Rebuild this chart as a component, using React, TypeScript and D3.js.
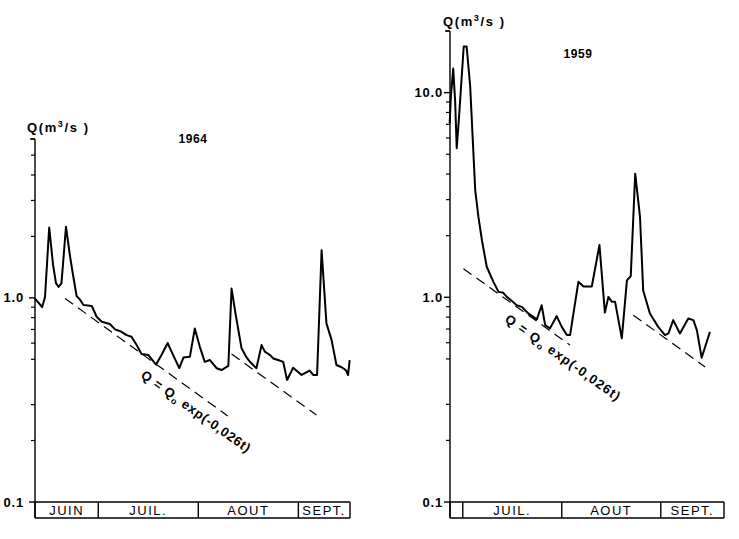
import React from "react";
import * as d3 from "d3";

// ---- 1964 panel data (day 0 = 1 June) ----
const days1964 = [10.4, 11.6, 12.6, 13.5, 14.8, 16.0, 16.9, 17.7, 18.6, 20.0, 21.2, 22.2, 23.3, 24.3, 25.4, 28.0, 29.5, 31.1, 33.6, 35.2, 37.2, 38.8, 40.3, 41.9, 43.4, 45.5, 47.9, 49.6, 51.5, 52.7, 55.1, 56.4, 58.4, 59.9, 61.5, 63.0, 64.6, 66.7, 68.2, 70.3, 71.3, 72.6, 74.4, 75.9, 77.0, 79.0, 80.6, 81.6, 83.2, 84.2, 85.7, 87.3, 88.5, 90.4, 93.0, 95.5, 96.6, 97.8, 99.2, 100.7, 102.3, 103.8, 105.4, 106.7, 107.4, 107.9];
const q1964 = [0.99, 0.943, 0.9, 1.01, 2.21, 1.45, 1.18, 1.13, 1.18, 2.23, 1.62, 1.29, 1.02, 0.983, 0.922, 0.912, 0.808, 0.764, 0.744, 0.701, 0.682, 0.657, 0.645, 0.587, 0.531, 0.525, 0.471, 0.525, 0.601, 0.545, 0.453, 0.51, 0.515, 0.707, 0.574, 0.486, 0.496, 0.452, 0.443, 0.464, 1.11, 0.824, 0.566, 0.512, 0.486, 0.452, 0.587, 0.545, 0.525, 0.505, 0.496, 0.486, 0.396, 0.455, 0.419, 0.44, 0.419, 0.419, 1.71, 0.75, 0.621, 0.469, 0.457, 0.443, 0.419, 0.496];
const recessionDays1964 = [[19.7, 70.1], [71.3, 97.6]];
const recessionQ1964 = [[0.994, 0.264], [0.531, 0.267]];
const months1964 = ["JUIN", "JUIL.", "AOUT", "SEPT."];
const monthBounds1964 = [10.4, 30, 61, 92, 108];
const minorTicks1964 = [0.2, 0.3, 0.5, 0.6, 0.7, 0.8, 0.9, 2, 3, 4, 5, 6];
const majorTicks1964 = [0.1, 1.0];

// ---- 1959 panel data (day 0 = 1 June) ----
const days1959 = [25.9, 26.3, 27.0, 27.6, 28.1, 28.8, 30.3, 31.2, 32.3, 33.9, 34.9, 36.0, 37.5, 39.6, 41.2, 42.7, 43.8, 45.3, 46.9, 48.5, 50.5, 53.2, 54.7, 55.8, 57.3, 59.4, 61.0, 62.6, 63.6, 66.2, 67.8, 70.4, 72.8, 74.5, 75.6, 76.7, 77.7, 79.8, 81.4, 82.6, 84.0, 85.5, 86.5, 88.6, 91.2, 93.3, 94.4, 95.9, 98.0, 100.6, 102.2, 103.3, 104.8, 105.9, 107.4];
const q1959 = [7.08, 9.7, 13.1, 9.17, 5.35, 7.49, 16.8, 16.8, 10.85, 3.33, 2.47, 1.9, 1.41, 1.19, 1.063, 1.052, 1.005, 0.961, 0.915, 0.898, 0.834, 0.78, 0.915, 0.731, 0.705, 0.809, 0.717, 0.654, 0.654, 1.19, 1.13, 1.13, 1.8, 0.842, 1.005, 0.95, 0.95, 0.63, 1.21, 1.27, 4.02, 2.47, 1.08, 0.834, 0.717, 0.654, 0.666, 0.774, 0.666, 0.788, 0.774, 0.691, 0.507, 0.573, 0.678];
const recessionDays1959 = [[30.2, 63.6], [83.4, 105.9]];
const recessionQ1959 = [[1.38, 0.584], [0.818, 0.457]];
const months1959 = ["", "JUIL.", "AOUT", "SEPT."];
const monthBounds1959 = [26, 30, 61, 92, 111.8];
const minorTicks1959 = [0.2, 0.3, 0.5, 0.6, 0.7, 0.8, 0.9, 2, 3, 4, 5, 6, 7, 8, 9, 20];
const majorTicks1959 = [0.1, 1.0, 10.0];

const FONT = "'Liberation Sans', Arial, sans-serif";

type PanelProps = {
  days: number[];
  q: number[];
  recDays: number[][];
  recQ: number[][];
  months: string[];
  bounds: number[];
  minor: number[];
  major: number[];
  yMax: number;
  x0: number;
  x1: number;
  yBottom: number;
  yTop: number;
  year: string;
  yearPos: [number, number];
  unitPos: [number, number];
  formulaPos: [number, number];
  formulaSpacing: number;
  labelOffset: number;
};

function Panel(p: PanelProps) {
  const x = d3.scaleLinear().domain([p.bounds[0], p.bounds[p.bounds.length - 1]]).range([p.x0, p.x1]);
  const y = d3.scaleLog().domain([0.1, p.yMax]).range([p.yBottom, p.yTop]);
  const pts: [number, number][] = p.days.map((d, i) => [d, p.q[i]]);
  const line = d3
    .line<[number, number]>()
    .x((d) => x(d[0]))
    .y((d) => y(d[1]));
  const boxH = 16;
  const ax = p.x0;
  return (
    <g>
      {/* y axis */}
      <line x1={ax} x2={ax} y1={y(p.yMax)} y2={p.yBottom + boxH} stroke="#000" strokeWidth={1.4} />
      {p.minor.map((t) => (
        <line key={"m" + t} x1={ax - 4} x2={ax} y1={y(t)} y2={y(t)} stroke="#000" strokeWidth={1.2} />
      ))}
      {p.major.map((t) => (
        <g key={"M" + t}>
          <line x1={ax - 6} x2={ax} y1={y(t)} y2={y(t)} stroke="#000" strokeWidth={1.4} />
          <text
            x={ax - p.labelOffset}
            y={y(t) + 4.5}
            textAnchor="end"
            fontFamily={FONT}
            fontWeight="bold"
            fontSize={13}
            letterSpacing={0.8}
          >
            {t.toFixed(1)}
          </text>
        </g>
      ))}
      <line x1={ax - 5} x2={ax} y1={y(p.yMax)} y2={y(p.yMax)} stroke="#000" strokeWidth={1.4} />
      {/* month boxes */}
      <line x1={ax} x2={p.x1} y1={p.yBottom} y2={p.yBottom} stroke="#000" strokeWidth={1.4} />
      <line x1={ax} x2={p.x1} y1={p.yBottom + boxH} y2={p.yBottom + boxH} stroke="#000" strokeWidth={1.4} />
      {p.bounds.map((b, i) => (
        <line key={"b" + i} x1={x(b)} x2={x(b)} y1={p.yBottom} y2={p.yBottom + boxH} stroke="#000" strokeWidth={1.4} />
      ))}
      {p.months.map((m, i) => (
        <text
          key={"t" + i}
          x={(x(p.bounds[i]) + x(p.bounds[i + 1])) / 2}
          y={p.yBottom + boxH - 3}
          textAnchor="middle"
          fontFamily={FONT}
          fontSize={13}
          letterSpacing={1.5}
        >
          {m}
        </text>
      ))}
      {/* recession lines */}
      {p.recDays.map((r, i) => (
        <line
          key={"r" + i}
          x1={x(r[0])}
          y1={y(p.recQ[i][0])}
          x2={x(r[1])}
          y2={y(p.recQ[i][1])}
          stroke="#000"
          strokeWidth={1.2}
          strokeDasharray="10,6"
        />
      ))}
      {/* data line */}
      <path d={line(pts) || ""} fill="none" stroke="#000" strokeWidth={2} strokeLinejoin="round" />
      {/* labels */}
      <text x={p.yearPos[0]} y={p.yearPos[1]} textAnchor="middle" fontFamily={FONT} fontWeight="bold" fontSize={12} letterSpacing={0.6}>
        {p.year}
      </text>
      <text x={p.unitPos[0]} y={p.unitPos[1]} fontFamily={FONT} fontWeight="bold" fontSize={13} letterSpacing={1.6}>
        Q(m<tspan dy={-5} fontSize={9}>3</tspan>
        <tspan dy={5}>/s )</tspan>
      </text>
      <text
        transform={`translate(${p.formulaPos[0]},${p.formulaPos[1]}) rotate(35.5)`}
        fontFamily={FONT}
        fontWeight="bold"
        fontSize={13}
        letterSpacing={p.formulaSpacing}
      >
        Q = Q<tspan dy={3} fontSize={9}>o</tspan>
        <tspan dy={-3}> exp(-0,026t)</tspan>
      </text>
    </g>
  );
}

export default function App() {
  return (
    <svg
      width={739}
      height={539}
      style={{ display: "block", background: "#fff", position: "absolute", left: 0, top: 0 }}
    >
      <Panel
        days={days1964}
        q={q1964}
        recDays={recessionDays1964}
        recQ={recessionQ1964}
        months={months1964}
        bounds={monthBounds1964}
        minor={minorTicks1964}
        major={majorTicks1964}
        yMax={6}
        x0={35}
        x1={350}
        yBottom={502}
        yTop={139}
        year="1964"
        yearPos={[193, 143]}
        unitPos={[27, 132]}
        formulaPos={[140, 377]}
        formulaSpacing={0.8}
        labelOffset={11}
      />
      <Panel
        days={days1959}
        q={q1959}
        recDays={recessionDays1959}
        recQ={recessionQ1959}
        months={months1959}
        bounds={monthBounds1959}
        minor={minorTicks1959}
        major={majorTicks1959}
        yMax={20}
        x0={450}
        x1={724}
        yBottom={502}
        yTop={31}
        year="1959"
        yearPos={[578, 58]}
        unitPos={[443, 26]}
        formulaPos={[504, 321]}
        formulaSpacing={1.2}
        labelOffset={7}
      />
    </svg>
  );
}
